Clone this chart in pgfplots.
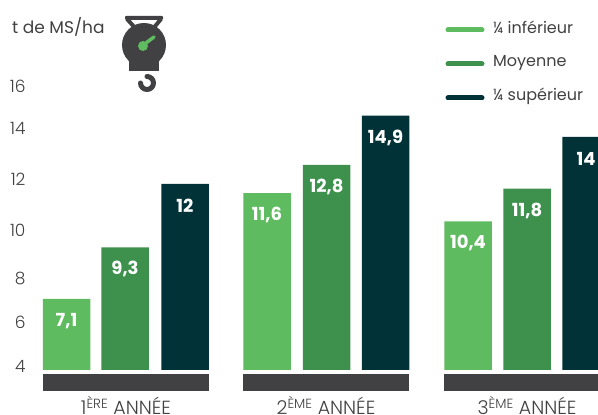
\documentclass[border=0pt]{standalone}
\usepackage{pgfplots}
\pgfplotsset{compat=1.18}
\usepackage{fontspec}
\setmainfont{Poppins}[UprightFont=* Light,BoldFont=* Bold]
\newfontfamily\regfont{Poppins}
\definecolor{cLight}{HTML}{5FBB5F}
\definecolor{cMid}{HTML}{3D914D}
\definecolor{cDark}{HTML}{013237}
\definecolor{cGrey}{HTML}{414042}
\begin{document}
\begin{tikzpicture}
\path[use as bounding box] (0,0) rectangle (598pt,415pt);
\begin{axis}[
 anchor=south west, at={(0,0)},
 scale only axis, width=598pt, height=415pt,
 xmin=0, xmax=598, ymin=2.164, ymax=19.82,
 axis line style={draw=none}, tick style={draw=none},
 clip=true, axis on top=true,
 tick label style={text=cGrey,font=\fontsize{17}{19}\selectfont},
 /pgf/number format/assume math mode=true,
 /pgf/number format/use comma,
 ytick={16.16,14.37,12.21,10.04,7.99,6.12,4.25},
 yticklabels={16,14,12,10,8,6,4},
 yticklabel style={anchor=east,xshift=29pt},
 xtick={126,326,527},
 xticklabels={1\textsuperscript{ÈRE} ANNÉE,2\textsuperscript{ÈME} ANNÉE,3\textsuperscript{ÈME} ANNÉE},
 xticklabel style={anchor=center,yshift=13.5pt,font=\fontsize{19}{20}\selectfont},
 ybar, bar shift=0pt, bar width=47.5,
 nodes near coords,
 every node near coord/.append style={anchor=center,yshift=-22pt,text=white,font=\fontsize{18}{20}\bfseries\selectfont},
]
\addplot[fill=cLight,draw=none] coordinates {(66.5,7.1) (267,11.6) (468,10.4)};
\addplot[fill=cMid,draw=none] coordinates {(125,9.3) (326.5,12.8) (527,11.8)};
\addplot[fill=cDark,draw=none] coordinates {(185,12) (385.5,14.9) (586,14)};
\fill[white] (axis cs:0,2.164) rectangle (axis cs:598,4.06);
\fill[cGrey] (axis cs:43,3.91) rectangle (axis cs:209,3.185);
\fill[cGrey] (axis cs:243,3.91) rectangle (axis cs:409,3.185);
\fill[cGrey] (axis cs:444,3.91) rectangle (axis cs:598,3.185);
\end{axis}
\begin{scope}[x=1pt,y=-1pt,shift={(0,415pt)}]
\node[anchor=west,text=cGrey,inner sep=0pt,font=\regfont\fontsize{17}{18}\selectfont] at (12,27) {t de MS/ha};
\draw[cLight,line width=5pt,line cap=round] (448,30) -- (482,30);
\draw[cMid,line width=5pt,line cap=round] (448,64) -- (482,64);
\draw[cDark,line width=5pt,line cap=round] (448,98) -- (482,98);
\node[anchor=west,text=cGrey,inner sep=0pt,font=\regfont\fontsize{16}{17}\selectfont] at (493,27) {¼ inférieur};
\node[anchor=west,text=cGrey,inner sep=0pt,font=\regfont\fontsize{16}{17}\selectfont] at (493,63) {Moyenne};
\node[anchor=west,text=cGrey,inner sep=0pt,font=\regfont\fontsize{16}{17}\selectfont] at (493,96) {¼ supérieur};
\fill[cGrey,rounded corners=1pt] (125,16) -- (163,16) -- (163,20) -- (125,20) -- cycle;
\draw[cGrey,line width=4pt] (127,19) -- (137,30) -- (152,30) -- (161,19);
\fill[cGrey] (144,45) circle (22);
\fill[cGrey] (129,50) rectangle (159,71.5);
\draw[cGrey,line width=5pt,line cap=round] (147,76.5) arc (-90:180:6.5);
\draw[cLight,line width=3.5pt,line cap=round] (142,46) -- (154,37);
\fill[cLight] (143,46) circle (5);
\end{scope}
\end{tikzpicture}
\end{document}
